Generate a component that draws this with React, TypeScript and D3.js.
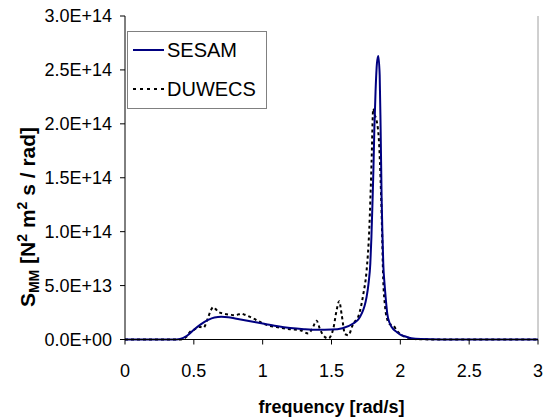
import React from 'react';
import * as d3 from 'd3';

const W = 547;
const H = 417;

const xTicks = [0, 0.5, 1, 1.5, 2, 2.5, 3];
const xTickLabels = ['0', '0.5', '1', '1.5', '2', '2.5', '3'];
const yTicks = [0, 5e13, 1e14, 1.5e14, 2e14, 2.5e14, 3e14];
const yTickLabels = ['0.0E+00', '5.0E+13', '1.0E+14', '1.5E+14', '2.0E+14', '2.5E+14', '3.0E+14'];

const seriesNames = ['SESAM', 'DUWECS'];

const sesamFreq = [0, 0.35, 0.4, 0.45, 0.5, 0.55, 0.6, 0.65, 0.7, 0.75, 0.8, 0.9, 1.0, 1.1, 1.2, 1.3, 1.4, 1.5, 1.58, 1.658, 1.7, 1.719, 1.74, 1.755, 1.77, 1.782, 1.79, 1.799, 1.805, 1.811, 1.82, 1.83, 1.84, 1.85, 1.857, 1.864, 1.87, 1.876, 1.885, 1.893, 1.905, 1.924, 1.95, 1.973, 2.0, 2.033, 2.08, 2.15, 2.3, 2.6, 3.0];
const sesamVal = [0, 0, 0.05e13, 0.35e13, 0.9e13, 1.4e13, 1.8e13, 2.05e13, 2.1e13, 2.06e13, 1.95e13, 1.72e13, 1.48e13, 1.25e13, 1.07e13, 0.96e13, 0.9e13, 0.92e13, 1.05e13, 1.48e13, 1.95e13, 2.4e13, 3.1e13, 3.95e13, 5.3e13, 7.05e13, 9.5e13, 13.2e13, 16.0e13, 19.4e13, 23.0e13, 25.6e13, 26.3e13, 24.5e13, 19.4e13, 13.2e13, 9.8e13, 7.05e13, 5.2e13, 3.95e13, 2.4e13, 1.48e13, 0.95e13, 0.7e13, 0.45e13, 0.3e13, 0.12e13, 0.04e13, 0, 0, 0];

const duwecsFreq = [0, 0.4, 0.45, 0.472, 0.5, 0.545, 0.57, 0.6, 0.62, 0.641, 0.66, 0.678, 0.714, 0.763, 0.8, 0.847, 0.87, 0.932, 1.004, 1.053, 1.1, 1.198, 1.271, 1.331, 1.36, 1.392, 1.415, 1.44, 1.477, 1.513, 1.537, 1.556, 1.574, 1.598, 1.622, 1.658, 1.694, 1.731, 1.755, 1.774, 1.791, 1.803, 1.815, 1.828, 1.847, 1.856, 1.864, 1.876, 1.888, 1.9, 1.925, 1.948, 1.97, 2.01, 2.06, 2.12, 2.3, 3.0];
const duwecsVal = [0, 0, 0.3e13, 0.7e13, 0.9e13, 1.17e13, 1.1e13, 1.9e13, 2.6e13, 3.0e13, 2.8e13, 2.56e13, 2.4e13, 2.3e13, 2.25e13, 2.4e13, 2.3e13, 1.95e13, 1.48e13, 1.25e13, 1.15e13, 0.95e13, 0.86e13, 0.56e13, 1.0e13, 1.75e13, 1.0e13, 0.4e13, 0.1e13, 1.0e13, 2.7e13, 3.55e13, 2.3e13, 0.5e13, 0.4e13, 1.48e13, 2.1e13, 4.2e13, 6.4e13, 10.1e13, 16.4e13, 21.4e13, 20.8e13, 20.3e13, 17.9e13, 15.0e13, 11.7e13, 5.5e13, 3.2e13, 2.1e13, 1.4e13, 1.33e13, 0.9e13, 0.4e13, 0.15e13, 0.03e13, 0, 0];

const FONT = '"Liberation Sans", Arial, sans-serif';

export default function App() {
  const x = d3.scaleLinear().domain([0, 3]).range([125, 538]);
  const y = d3.scaleLinear().domain([0, 3e14]).range([339.5, 16]);

  const sesam = sesamFreq.map((f, i) => [f, sesamVal[i]] as [number, number]);
  const duwecs = duwecsFreq.map((f, i) => [f, duwecsVal[i]] as [number, number]);

  const line = d3
    .line<[number, number]>()
    .x((d) => x(d[0]))
    .y((d) => y(d[1]))
    .curve(d3.curveMonotoneX);

  const x0 = x(0);
  const x1 = x(3);
  const y0 = y(0);
  const yTop = y(3e14);

  return (
    <svg
      width={W}
      height={H}
      style={{ position: 'absolute', left: 0, top: 0, background: '#fff' }}
      fontFamily={FONT}
    >
      <rect x={0} y={0} width={W} height={H} fill="#fff" />
      <line x1={x1} x2={x1} y1={yTop} y2={y0} stroke="#a0a0a0" strokeWidth={1} />

      <path d={line(duwecs) || ''} fill="none" stroke="#000" strokeWidth={2} strokeDasharray="3,3" />
      <path d={line(sesam) || ''} fill="none" stroke="#000080" strokeWidth={2} />

      <line x1={x0} x2={x0} y1={yTop} y2={y0} stroke="#000" strokeWidth={1} />
      {yTicks.map((t, i) => (
        <g key={'yt' + i}>
          <line x1={x0 - 5} x2={x0} y1={y(t)} y2={y(t)} stroke="#000" />
          <text x={112} y={y(t)} dy="0.35em" textAnchor="end" fontSize={18} fill="#000">
            {yTickLabels[i]}
          </text>
        </g>
      ))}

      <line x1={x0} x2={x1} y1={y0} y2={y0} stroke="#000" strokeWidth={1} />
      {xTicks.map((t, i) => (
        <g key={'xt' + i}>
          <line x1={x(t)} x2={x(t)} y1={y0} y2={y0 + 5} stroke="#000" />
          <text x={x(t)} y={377} textAnchor="middle" fontSize={18} fill="#000">
            {xTickLabels[i]}
          </text>
        </g>
      ))}

      <text x={(x0 + x1) / 2} y={413} textAnchor="middle" fontSize={18} fontWeight="bold" fill="#000">
        frequency [rad/s]
      </text>
      <text
        transform={`translate(35, 217) rotate(-90)`}
        textAnchor="middle"
        fontSize={21}
        fontWeight="bold"
        fill="#000"
      >
        S<tspan fontSize={14} dy={4}>MM</tspan>
        <tspan dy={-4}> [N</tspan>
        <tspan fontSize={14} dy={-8}>2</tspan>
        <tspan dy={8}> m</tspan>
        <tspan fontSize={14} dy={-8}>2</tspan>
        <tspan dy={8}> s / rad]</tspan>
      </text>

      <rect x={127.5} y={31.5} width={139} height={77} fill="#fff" stroke="#808080" strokeWidth={1} />
      <line x1={133} x2={164} y1={50} y2={50} stroke="#000080" strokeWidth={2} />
      <text x={167} y={50} dy="0.35em" fontSize={20} fill="#000">
        {seriesNames[0]}
      </text>
      <line x1={133} x2={164} y1={89} y2={89} stroke="#000" strokeWidth={2} strokeDasharray="3,4" />
      <text x={167} y={89} dy="0.35em" fontSize={20} fill="#000">
        {seriesNames[1]}
      </text>
    </svg>
  );
}
